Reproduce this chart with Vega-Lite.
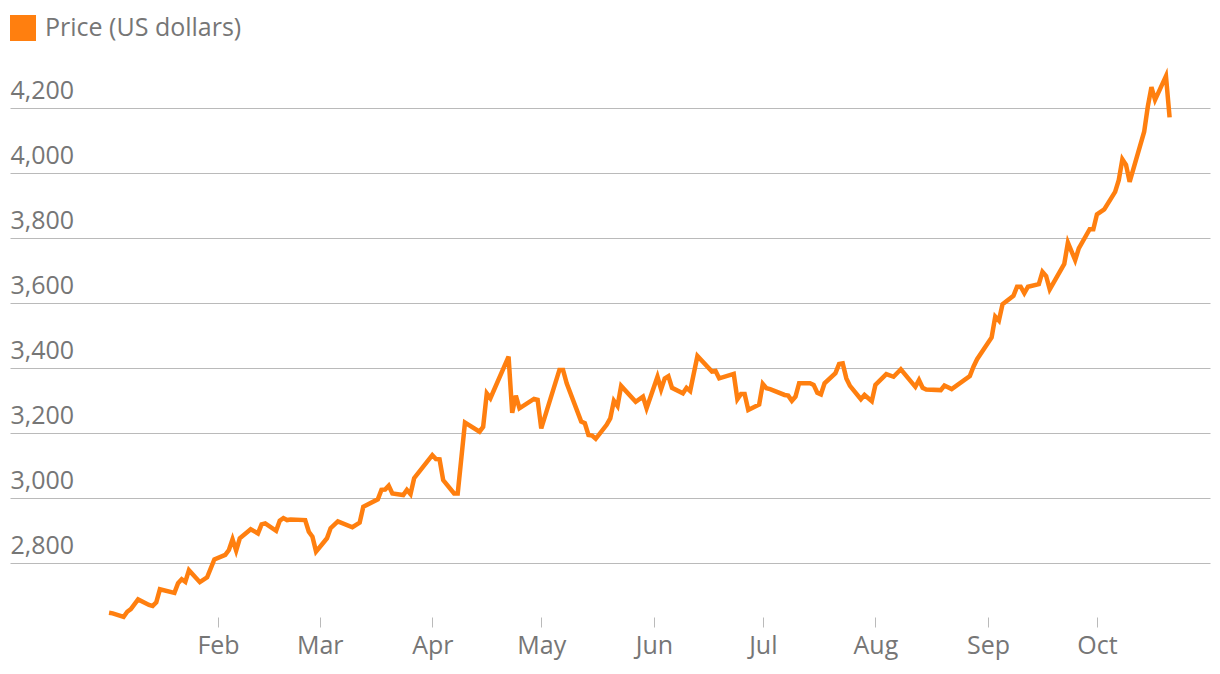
{
  "$schema": "https://vega.github.io/schema/vega-lite/v6.json",
  "width": 1200,
  "height": 542,
  "autosize": {"type": "none"},
  "padding": {"top": 75, "left": 10, "right": 10, "bottom": 57},
  "background": "#ffffff",
  "config": {"view": {"stroke": null}, "font": "Open Sans"},
  "data": {
    "format": {"parse": {"date": "date:'%Y-%m-%d'"}},
    "values": [
      {"date": "2025-01-02", "price": 2647}, {"date": "2025-01-03", "price": 2645}, {"date": "2025-01-06", "price": 2634},
      {"date": "2025-01-07", "price": 2650}, {"date": "2025-01-08", "price": 2658}, {"date": "2025-01-10", "price": 2688},
      {"date": "2025-01-13", "price": 2671}, {"date": "2025-01-14", "price": 2668}, {"date": "2025-01-15", "price": 2679},
      {"date": "2025-01-16", "price": 2719}, {"date": "2025-01-20", "price": 2708}, {"date": "2025-01-21", "price": 2738},
      {"date": "2025-01-22", "price": 2750}, {"date": "2025-01-23", "price": 2742}, {"date": "2025-01-24", "price": 2778},
      {"date": "2025-01-27", "price": 2741}, {"date": "2025-01-29", "price": 2756}, {"date": "2025-01-31", "price": 2811},
      {"date": "2025-02-03", "price": 2825}, {"date": "2025-02-04", "price": 2840}, {"date": "2025-02-05", "price": 2873},
      {"date": "2025-02-06", "price": 2838}, {"date": "2025-02-07", "price": 2876}, {"date": "2025-02-10", "price": 2904},
      {"date": "2025-02-12", "price": 2891}, {"date": "2025-02-13", "price": 2919}, {"date": "2025-02-14", "price": 2922},
      {"date": "2025-02-17", "price": 2899}, {"date": "2025-02-18", "price": 2930}, {"date": "2025-02-19", "price": 2938},
      {"date": "2025-02-20", "price": 2932}, {"date": "2025-02-21", "price": 2934}, {"date": "2025-02-25", "price": 2932},
      {"date": "2025-02-26", "price": 2896}, {"date": "2025-02-27", "price": 2881}, {"date": "2025-02-28", "price": 2835},
      {"date": "2025-03-03", "price": 2876}, {"date": "2025-03-04", "price": 2907}, {"date": "2025-03-06", "price": 2928},
      {"date": "2025-03-10", "price": 2910}, {"date": "2025-03-12", "price": 2924}, {"date": "2025-03-13", "price": 2973},
      {"date": "2025-03-17", "price": 2996}, {"date": "2025-03-18", "price": 3025}, {"date": "2025-03-19", "price": 3026},
      {"date": "2025-03-20", "price": 3038}, {"date": "2025-03-21", "price": 3014}, {"date": "2025-03-24", "price": 3009},
      {"date": "2025-03-25", "price": 3025}, {"date": "2025-03-26", "price": 3012}, {"date": "2025-03-27", "price": 3061},
      {"date": "2025-04-01", "price": 3132}, {"date": "2025-04-02", "price": 3120}, {"date": "2025-04-03", "price": 3119},
      {"date": "2025-04-04", "price": 3055}, {"date": "2025-04-07", "price": 3014}, {"date": "2025-04-08", "price": 3014},
      {"date": "2025-04-10", "price": 3232}, {"date": "2025-04-14", "price": 3204}, {"date": "2025-04-15", "price": 3219},
      {"date": "2025-04-16", "price": 3322}, {"date": "2025-04-17", "price": 3307}, {"date": "2025-04-22", "price": 3435},
      {"date": "2025-04-23", "price": 3262}, {"date": "2025-04-24", "price": 3315}, {"date": "2025-04-25", "price": 3276},
      {"date": "2025-04-29", "price": 3305}, {"date": "2025-04-30", "price": 3302}, {"date": "2025-05-01", "price": 3214},
      {"date": "2025-05-06", "price": 3394}, {"date": "2025-05-07", "price": 3394}, {"date": "2025-05-08", "price": 3353},
      {"date": "2025-05-12", "price": 3235}, {"date": "2025-05-13", "price": 3230}, {"date": "2025-05-14", "price": 3194},
      {"date": "2025-05-15", "price": 3192}, {"date": "2025-05-16", "price": 3182}, {"date": "2025-05-19", "price": 3225},
      {"date": "2025-05-20", "price": 3245}, {"date": "2025-05-21", "price": 3299}, {"date": "2025-05-22", "price": 3283},
      {"date": "2025-05-23", "price": 3345}, {"date": "2025-05-27", "price": 3296}, {"date": "2025-05-29", "price": 3312},
      {"date": "2025-05-30", "price": 3276}, {"date": "2025-06-02", "price": 3373}, {"date": "2025-06-03", "price": 3334},
      {"date": "2025-06-04", "price": 3368}, {"date": "2025-06-05", "price": 3375}, {"date": "2025-06-06", "price": 3339},
      {"date": "2025-06-09", "price": 3322}, {"date": "2025-06-10", "price": 3339}, {"date": "2025-06-11", "price": 3329},
      {"date": "2025-06-13", "price": 3437}, {"date": "2025-06-17", "price": 3389}, {"date": "2025-06-18", "price": 3391},
      {"date": "2025-06-19", "price": 3368}, {"date": "2025-06-23", "price": 3382}, {"date": "2025-06-24", "price": 3304},
      {"date": "2025-06-25", "price": 3320}, {"date": "2025-06-26", "price": 3320}, {"date": "2025-06-27", "price": 3271},
      {"date": "2025-06-30", "price": 3288}, {"date": "2025-07-01", "price": 3351}, {"date": "2025-07-02", "price": 3338},
      {"date": "2025-07-03", "price": 3335}, {"date": "2025-07-07", "price": 3317}, {"date": "2025-07-08", "price": 3315},
      {"date": "2025-07-09", "price": 3299}, {"date": "2025-07-10", "price": 3312}, {"date": "2025-07-11", "price": 3353},
      {"date": "2025-07-14", "price": 3353}, {"date": "2025-07-15", "price": 3348}, {"date": "2025-07-16", "price": 3324},
      {"date": "2025-07-17", "price": 3319}, {"date": "2025-07-18", "price": 3353}, {"date": "2025-07-21", "price": 3384},
      {"date": "2025-07-22", "price": 3412}, {"date": "2025-07-23", "price": 3414}, {"date": "2025-07-24", "price": 3368},
      {"date": "2025-07-25", "price": 3345}, {"date": "2025-07-28", "price": 3304}, {"date": "2025-07-29", "price": 3317},
      {"date": "2025-07-31", "price": 3298}, {"date": "2025-08-01", "price": 3348}, {"date": "2025-08-04", "price": 3381},
      {"date": "2025-08-06", "price": 3373}, {"date": "2025-08-08", "price": 3396}, {"date": "2025-08-12", "price": 3342},
      {"date": "2025-08-13", "price": 3363}, {"date": "2025-08-14", "price": 3339}, {"date": "2025-08-15", "price": 3334},
      {"date": "2025-08-19", "price": 3332}, {"date": "2025-08-20", "price": 3346}, {"date": "2025-08-22", "price": 3335},
      {"date": "2025-08-27", "price": 3375}, {"date": "2025-08-28", "price": 3404}, {"date": "2025-08-29", "price": 3427},
      {"date": "2025-09-02", "price": 3494}, {"date": "2025-09-03", "price": 3558}, {"date": "2025-09-04", "price": 3546},
      {"date": "2025-09-05", "price": 3596}, {"date": "2025-09-08", "price": 3622}, {"date": "2025-09-09", "price": 3650},
      {"date": "2025-09-10", "price": 3650}, {"date": "2025-09-11", "price": 3630}, {"date": "2025-09-12", "price": 3650},
      {"date": "2025-09-15", "price": 3658}, {"date": "2025-09-16", "price": 3696}, {"date": "2025-09-17", "price": 3683},
      {"date": "2025-09-18", "price": 3642}, {"date": "2025-09-22", "price": 3720}, {"date": "2025-09-23", "price": 3786},
      {"date": "2025-09-25", "price": 3732}, {"date": "2025-09-26", "price": 3768}, {"date": "2025-09-29", "price": 3827},
      {"date": "2025-09-30", "price": 3827}, {"date": "2025-10-01", "price": 3873}, {"date": "2025-10-03", "price": 3888},
      {"date": "2025-10-06", "price": 3942}, {"date": "2025-10-07", "price": 3978}, {"date": "2025-10-08", "price": 4042},
      {"date": "2025-10-09", "price": 4025}, {"date": "2025-10-10", "price": 3973}, {"date": "2025-10-14", "price": 4127},
      {"date": "2025-10-15", "price": 4204}, {"date": "2025-10-16", "price": 4264}, {"date": "2025-10-17", "price": 4225},
      {"date": "2025-10-20", "price": 4298}, {"date": "2025-10-21", "price": 4171}
    ]
  },
  "mark": {"type": "line", "strokeWidth": 4.5, "clip": false},
  "encoding": {
    "x": {
      "field": "date",
      "type": "temporal",
      "scale": {
        "domain": [
          {"year": 2024, "month": 12, "date": 5, "hours": 17, "minutes": 30},
          {"year": 2025, "month": 11, "date": 1, "hours": 3}
        ]
      },
      "axis": {
        "title": null,
        "values": [
          {"year": 2025, "month": 2, "date": 1}, {"year": 2025, "month": 3, "date": 1},
          {"year": 2025, "month": 4, "date": 1}, {"year": 2025, "month": 5, "date": 1},
          {"year": 2025, "month": 6, "date": 1}, {"year": 2025, "month": 7, "date": 1},
          {"year": 2025, "month": 8, "date": 1}, {"year": 2025, "month": 9, "date": 1},
          {"year": 2025, "month": 10, "date": 1}
        ],
        "format": "%b",
        "domain": false,
        "grid": false,
        "ticks": true,
        "tickSize": 10,
        "tickColor": "#bababa",
        "tickWidth": 1,
        "labelPadding": 6,
        "labelFont": "Open Sans",
        "labelFontSize": 25,
        "labelColor": "#767676",
        "labelFlush": false
      }
    },
    "y": {
      "field": "price",
      "type": "quantitative",
      "scale": {"domain": [2633.8, 4301.5], "nice": false, "zero": false},
      "axis": {
        "title": null,
        "values": [2800, 3000, 3200, 3400, 3600, 3800, 4000, 4200],
        "format": ",d",
        "domain": false,
        "ticks": false,
        "tickSize": 0,
        "grid": true,
        "gridColor": "#bababa",
        "gridWidth": 1,
        "labelAlign": "left",
        "labelBaseline": "alphabetic",
        "labelOffset": -9,
        "labelPadding": 0,
        "labelFont": "Open Sans",
        "labelFontSize": 25,
        "labelColor": "#767676",
        "labelFlush": false
      }
    },
    "color": {
      "datum": "Price (US dollars)",
      "type": "nominal",
      "scale": {"range": ["#ff7f0f"]},
      "legend": {
        "title": null,
        "orient": "none",
        "legendX": 0,
        "legendY": -60,
        "direction": "horizontal",
        "symbolType": "square",
        "symbolSize": 676,
        "symbolFillColor": "#ff7f0f",
        "symbolStrokeWidth": 0,
        "symbolOpacity": 1,
        "labelFont": "Open Sans",
        "labelFontSize": 25,
        "labelColor": "#767676",
        "labelOffset": 9,
        "labelLimit": 600,
        "padding": 0,
        "offset": 0,
        "encode": {
          "symbols": {"update": {"fill": {"value": "#ff7f0f"}, "stroke": {"value": "#ff7f0f"}, "strokeWidth": {"value": 0}, "opacity": {"value": 1}}}
        }
      }
    }
  }
}
